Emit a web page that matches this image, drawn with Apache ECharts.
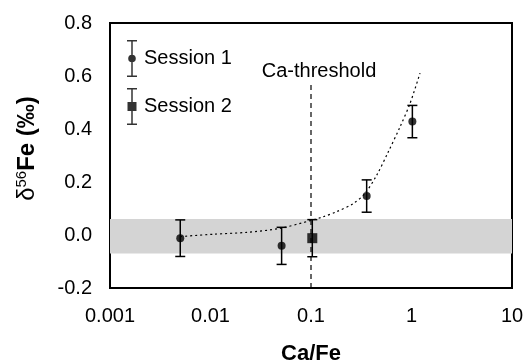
<!DOCTYPE html>
<html>
<head>
<meta charset="utf-8">
<script src="https://cdn.jsdelivr.net/npm/echarts@6/dist/echarts.min.js"></script>
<style>
  html, body { margin: 0; padding: 0; background: #fff; }
  #chart { width: 524px; height: 361px; }
</style>
</head>
<body>
<div id="chart"></div>
<script>
// x = Ca/Fe, y = δ56Fe, e = error (±)
const session1 = [
  [0.005, -0.012, 0.069],
  [0.051, -0.041, 0.07],
  [0.358, 0.147, 0.061],
  [1.02, 0.428, 0.061]
]
const session2 = [
  [0.103, -0.012, 0.07]
]
// trend line
const trend = [
  [0.005, -0.006], [0.0107, 0.003], [0.023, 0.010], [0.049, 0.025],
  [0.098, 0.054], [0.1325, 0.069], [0.18, 0.088], [0.264, 0.119],
  [0.344, 0.157], [0.451, 0.226], [0.588, 0.314], [0.769, 0.408],
  [0.966, 0.496], [1.216, 0.611]
]
const threshold = [[0.1, -0.2], [0.1, 0.573]]
const band = [-0.07, 0.06]
const xTicks = [0.001, 0.01, 0.1, 1, 10]
const yTicks = [-0.2, 0.0, 0.2, 0.4, 0.6, 0.8]

const FONT = '"Liberation Sans", Arial, sans-serif'

// legend icons: error bar + marker
const iconS1 = 'path://M0 0H10V1.5H0Z M4.25 1.5H5.75V15H4.25Z M1.2 18.5A3.8 3.8 0 1 1 8.8 18.5A3.8 3.8 0 1 1 1.2 18.5Z M4.25 22H5.75V35.5H4.25Z M0 35.5H10V37H0Z'
const iconS2 = 'path://M0 0H10V1.5H0Z M4.25 1.5H5.75V14H4.25Z M0.5 14H9.5V23H0.5Z M4.25 23H5.75V35.5H4.25Z M0 35.5H10V37H0Z'

const errorBars = (data) => ({
  type: 'custom',
  data: data,
  z: 3,
  silent: true,
  renderItem: (params, api) => {
    const x = api.value(0), y = api.value(1), e = api.value(2)
    const top = api.coord([x, y + e])
    const bot = api.coord([x, y - e])
    const style = { stroke: '#000', lineWidth: 1.5 }
    return {
      type: 'group',
      children: [
        { type: 'line', shape: { x1: top[0], y1: top[1], x2: bot[0], y2: bot[1] }, style },
        { type: 'line', shape: { x1: top[0] - 5, y1: top[1], x2: top[0] + 5, y2: top[1] }, style },
        { type: 'line', shape: { x1: bot[0] - 5, y1: bot[1], x2: bot[0] + 5, y2: bot[1] }, style }
      ]
    }
  }
})

const chart = echarts.init(document.getElementById('chart'))

chart.setOption({
  animation: false,
  backgroundColor: '#fff',
  textStyle: { fontFamily: FONT, color: '#000' },
  grid: {
    left: 110, right: 12, top: 23, bottom: 73,
    outerBoundsMode: 'none',
    containLabel: false,
    show: true, borderColor: '#000', borderWidth: 2, backgroundColor: 'transparent'
  },
  legend: {
    orient: 'vertical',
    left: 122,
    top: 35,
    itemWidth: 10,
    itemHeight: 37,
    itemGap: 11,
    selectedMode: false,
    textStyle: { fontFamily: FONT, fontSize: 20, color: '#000', padding: [0, 0, 0, 2] },
    data: [
      { name: 'Session 1', icon: iconS1 },
      { name: 'Session 2', icon: iconS2 }
    ]
  },
  xAxis: {
    type: 'log',
    logBase: 10,
    min: xTicks[0],
    max: xTicks[xTicks.length - 1],
    name: 'Ca/Fe',
    nameLocation: 'middle',
    nameGap: 55,
    nameTextStyle: { fontFamily: FONT, fontSize: 22, fontWeight: 'bold', color: '#000' },
    axisLine: { show: true, lineStyle: { color: '#000', width: 2 } },
    axisTick: { show: false },
    splitLine: { show: false },
    axisLabel: {
      margin: 18,
      fontFamily: FONT, fontSize: 20, color: '#000',
      formatter: (v) => String(Number(Number(v).toPrecision(3)))
    }
  },
  yAxis: {
    type: 'value',
    min: yTicks[0],
    max: yTicks[yTicks.length - 1],
    interval: 0.2,
    name: '{d|δ}{s|56}{b|Fe (‰)}',
    nameLocation: 'middle',
    nameGap: 70,
    nameRotate: 90,
    nameTextStyle: {
      fontFamily: FONT, color: '#000',
      padding: [0, 0, 0, 14],
      rich: {
        d: { fontFamily: FONT, fontSize: 24, color: '#000' },
        s: { fontFamily: FONT, fontSize: 15, color: '#000', padding: [0, 0, 11, 0] },
        b: { fontFamily: FONT, fontSize: 24, fontWeight: 'bold', color: '#000' }
      }
    },
    axisLine: { show: true, lineStyle: { color: '#000', width: 2 } },
    axisTick: { show: false },
    splitLine: { show: false },
    axisLabel: {
      margin: 18,
      fontFamily: FONT, fontSize: 20, color: '#000',
      formatter: (v) => Number(v).toFixed(1)
    }
  },
  series: [
    {
      type: 'line',
      data: [],
      silent: true,
      markArea: {
        silent: true,
        itemStyle: { color: '#d4d4d4' },
        data: [[{ yAxis: band[0] }, { yAxis: band[1] }]]
      },
      z: 1
    },
    {
      type: 'line',
      data: trend,
      smooth: 0.3,
      symbol: 'none',
      lineStyle: { color: '#000', width: 1.2, type: [2, 3] },
      z: 2
    },
    {
      type: 'line',
      data: threshold,
      symbol: 'none',
      lineStyle: { color: '#000', width: 1.2, type: [5, 4] },
      label: { show: false },
      endLabel: {
        show: true,
        formatter: 'Ca-threshold',
        fontFamily: FONT, fontSize: 20, color: '#000',
        align: 'center',
        verticalAlign: 'bottom',
        offset: [0, -2]
      },
      z: 2
    },
    errorBars(session1),
    errorBars(session2),
    {
      name: 'Session 1',
      type: 'scatter',
      data: session1.map(d => [d[0], d[1]]),
      symbol: 'circle',
      symbolSize: 8,
      itemStyle: { color: '#000' },
      z: 4
    },
    {
      name: 'Session 2',
      type: 'scatter',
      data: session2.map(d => [d[0], d[1]]),
      symbol: 'rect',
      symbolSize: 10,
      itemStyle: { color: '#000' },
      z: 4
    }
  ]
})
</script>
</body>
</html>
